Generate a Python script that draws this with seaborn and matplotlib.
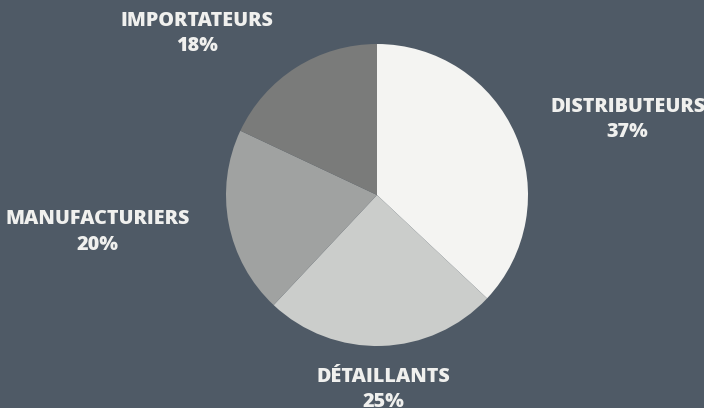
import matplotlib
matplotlib.use("Agg")
import matplotlib.pyplot as plt
import seaborn as sns

categories = ["DISTRIBUTEURS", "DÉTAILLANTS", "MANUFACTURIERS", "IMPORTATEURS"]
values = [37, 25, 20, 18]
colors = ["#f4f4f2", "#cbcdcb", "#a0a2a1", "#7a7b7a"]
label_pos = [(1.66, 0.50), (0.04, -1.29), (-1.85, -0.245), (-1.19, 1.07)]

sns.set_theme(style="white")
plt.rcParams['font.family'] = ['Open Sans', 'DejaVu Sans']

bg = "#4f5a66"
fig = plt.figure(figsize=(7.04, 4.08), dpi=100, facecolor=bg)
W, H = 704, 408
cx, cy, r = 377, 195, 151
ax = fig.add_axes([(cx - r) / W, (H - cy - r) / H, 2 * r / W, 2 * r / H])
ax.set_facecolor(bg)
ax.pie(values, colors=colors, startangle=90, counterclock=False,
       wedgeprops=dict(linewidth=0), radius=1)
ax.set_xlim(-1, 1)
ax.set_ylim(-1, 1)
ax.set_aspect('equal')
ax.axis('off')

for cat, v, (x, y) in zip(categories, values, label_pos):
    ax.text(x, y, f"{cat}\n{v}%", ha='center', va='center', fontsize=14.2,
            fontweight='heavy', color='#f0f0ee', linespacing=1.35, clip_on=False)

fig.savefig("out.png", dpi=100, facecolor=bg)
